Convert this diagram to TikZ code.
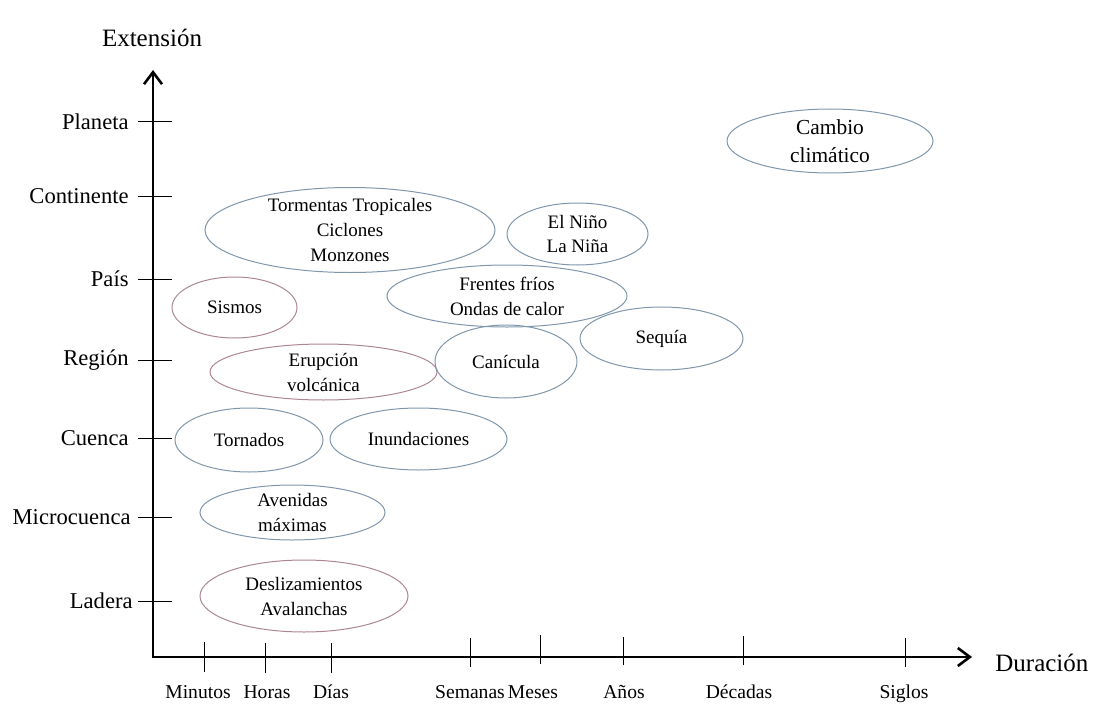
\documentclass[tikz,border=0pt]{standalone}
\usepackage{fontspec}
\setmainfont{Liberation Serif}
\usetikzlibrary{arrows.meta}
\definecolor{elblue}{RGB}{128,150,172}
\definecolor{elmauve}{RGB}{172,134,146}
\newcommand{\hazsize}{\fontsize{9.5}{12.5}\selectfont}
\newcommand{\levsize}{\fontsize{11.3}{13}\selectfont}
\newcommand{\timesize}{\fontsize{9.8}{12}\selectfont}
\newcommand{\axsize}{\fontsize{12.5}{15}\selectfont}

\begin{document}
\begin{tikzpicture}[x=0.5pt, y=-0.5pt,
    every node/.style={align=center, inner sep=0pt, font=\hazsize},
    axis/.style={line width=1.3pt, line cap=rect, -{Straight Barb[length=6pt,width=9pt]}},
    tick/.style={line width=0.5pt},
    timelabel/.style={font=\timesize, anchor=base},
    hazard/.style={line width=0.5pt, elblue},
    hazardm/.style={line width=0.5pt, elmauve}]
        \useasboundingbox (0,0) rectangle (1097,706);

        \coordinate (origin) at (153,657);
        \coordinate (yTip) at (153,70);
        \coordinate (xTip) at (972,657);

        % axes
        \draw [axis] (origin) -- (yTip);
        \draw [axis] (origin) -- (xTip);
        \node [font=\axsize] (extLabel) at (152,38) {Extensión};
        \node [font=\axsize, anchor=west] (durLabel) at (995,663) {Duración};

        % extension levels
        \draw [tick] (138,122) -- (172,122);
        \draw [tick] (138,196) -- (172,196);
        \draw [tick] (138,279) -- (172,279);
        \draw [tick] (138,360) -- (172,360);
        \draw [tick] (138,438) -- (172,438);
        \draw [tick] (138,517) -- (172,517);
        \draw [tick] (138,601) -- (172,601);
        \node [font=\levsize, anchor=east] (levPlaneta) at (129,122) {Planeta};
        \node [font=\levsize, anchor=east] (levContinente) at (129,196) {Continente};
        \node [font=\levsize, anchor=east] (levPais) at (129,279) {País};
        \node [font=\levsize, anchor=east] (levRegion) at (129,360) {Región};
        \node [font=\levsize, anchor=east] (levCuenca) at (129,438) {Cuenca};
        \node [font=\levsize, anchor=east] (levMicro) at (131,517) {Microcuenca};
        \node [font=\levsize, anchor=east] (levLadera) at (133,601) {Ladera};

        % duration scale
        \draw [tick] (204,642) -- (204,672);
        \draw [tick] (265,643) -- (265,673);
        \draw [tick] (331,643) -- (331,673);
        \draw [tick] (470,638) -- (470,667);
        \draw [tick] (540,635) -- (540,664);
        \draw [tick] (623,637) -- (623,665);
        \draw [tick] (743,636) -- (743,665);
        \draw [tick] (905,638) -- (905,667);
        \node [timelabel] (tMinutos) at (198,698) {Minutos};
        \node [timelabel] (tHoras) at (267,698) {Horas};
        \node [timelabel] (tDias) at (331,698) {Días};
        \node [timelabel] (tSemanas) at (470,698) {Semanas};
        \node [timelabel] (tMeses) at (533,698) {Meses};
        \node [timelabel] (tAnios) at (624,698) {Años};
        \node [timelabel] (tDecadas) at (739,698) {Décadas};
        \node [timelabel] (tSiglos) at (904,698) {Siglos};

        % phenomena
        \node [font=\fontsize{10.7}{14}\selectfont] (cambio) at (830,141) {Cambio\\climático};
        \draw [hazard] (cambio) ellipse [x radius=103, y radius=32];

        \node (tormentas) at (350,230) {Tormentas Tropicales\\Ciclones\\Monzones};
        \draw [hazard] (tormentas) ellipse [x radius=145, y radius=42.5];

        \node (nino) at (577.5,234) {El Niño\\La Niña};
        \draw [hazard] (nino) ellipse [x radius=70.5, y radius=31];

        \node (frentes) at (507,296) {Frentes fríos\\Ondas de calor};
        \draw [hazard] (frentes) ellipse [x radius=120, y radius=31];

        \node (sismos) at (234.5,307.5) {Sismos};
        \draw [hazardm] (sismos) ellipse [x radius=62.5, y radius=30.5];

        \node (sequia) at (661.5,338.5) {Sequía};
        \draw [hazard] (sequia) ellipse [x radius=81.5, y radius=31.5];

        \node (erupcion) at (323.5,372) {Erupción\\volcánica};
        \draw [hazardm] (erupcion) ellipse [x radius=113.5, y radius=28];

        \node (canicula) at (506,361.5) {Canícula};
        \draw [hazard] (canicula) ellipse [x radius=71, y radius=36.5];

        \node (tornados) at (249,440) {Tornados};
        \draw [hazard] (tornados) ellipse [x radius=74, y radius=32];

        \node (inundaciones) at (418.5,439) {Inundaciones};
        \draw [hazard] (inundaciones) ellipse [x radius=88.5, y radius=31];

        \node (avenidas) at (292.5,512.5) {Avenidas\\máximas};
        \draw [hazard] (avenidas) ellipse [x radius=92.5, y radius=27.5];

        \node (deslizamientos) at (304,596) {Deslizamientos\\Avalanchas};
        \draw [hazardm] (deslizamientos) ellipse [x radius=104, y radius=36];

    \end{tikzpicture}
\end{document}
